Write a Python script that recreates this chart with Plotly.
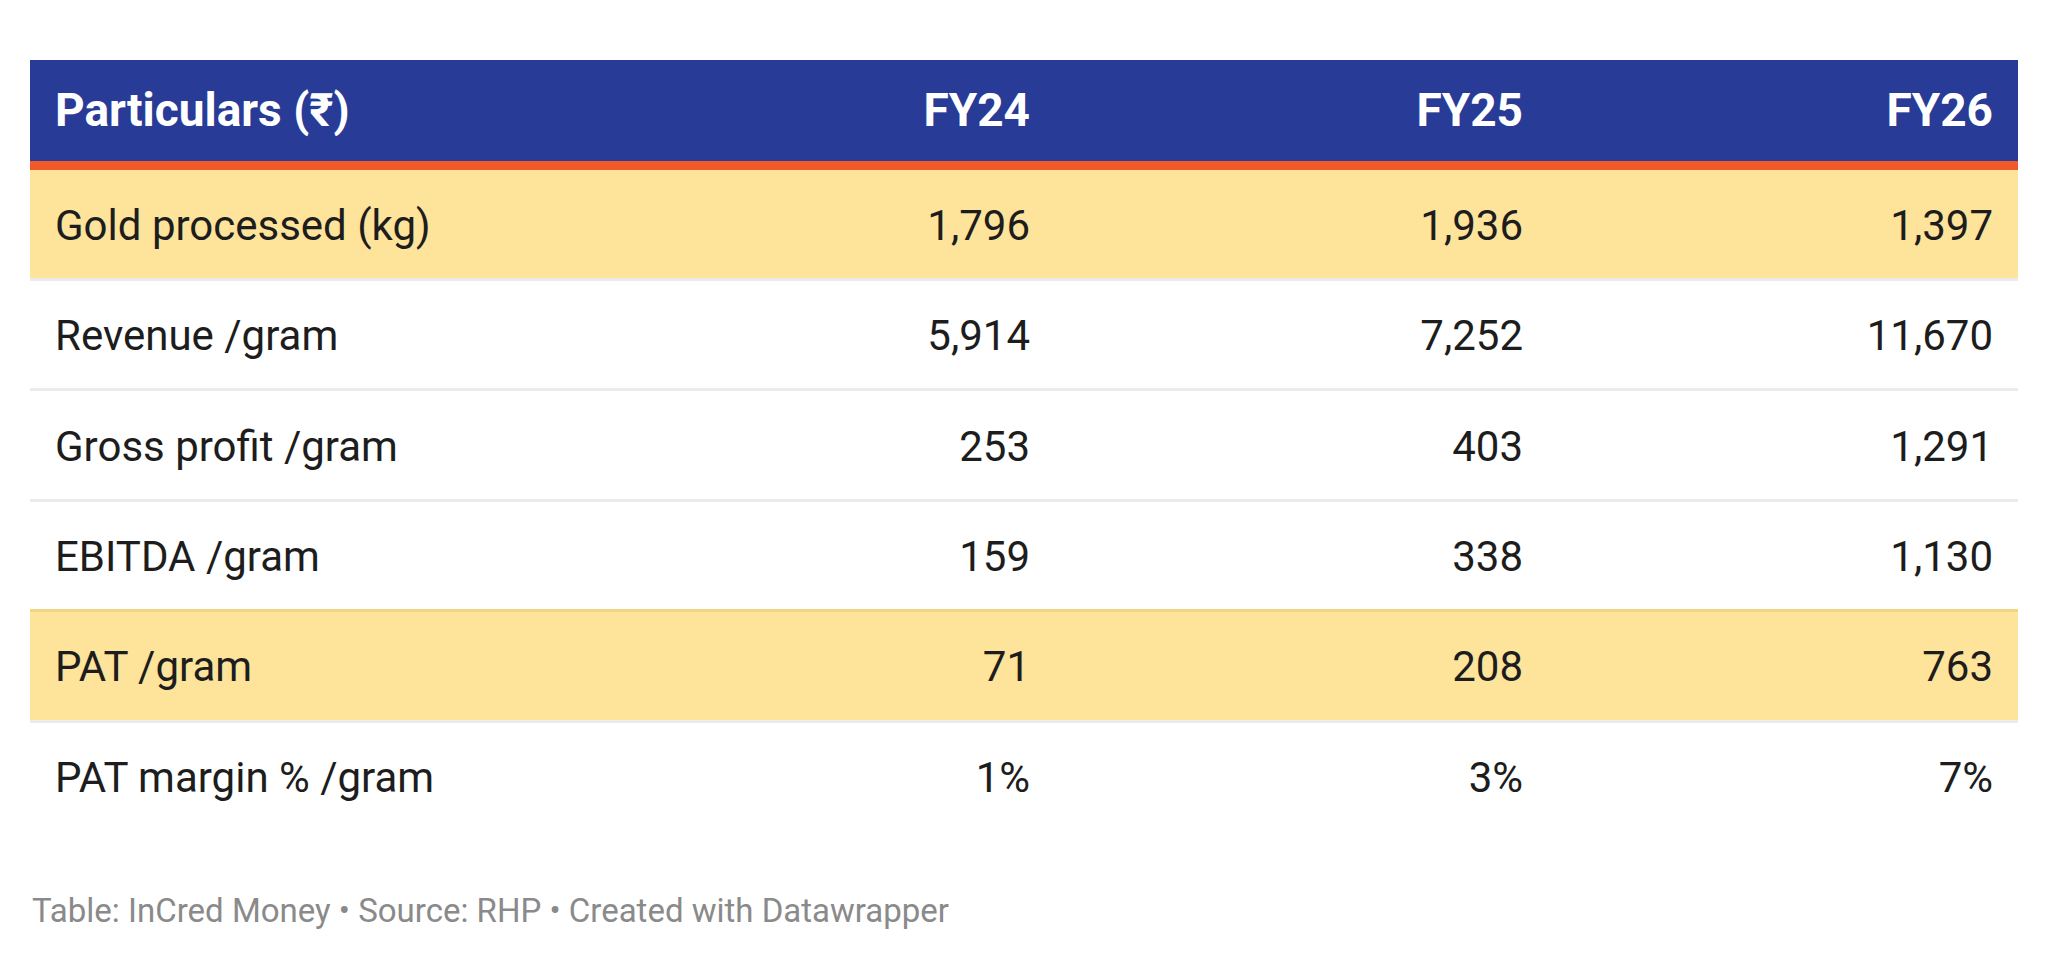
import plotly.graph_objects as go

# ---------------- data ----------------
columns = ["Particulars (₹)", "FY24", "FY25", "FY26"]
particulars = [
    "Gold processed (kg)",
    "Revenue /gram",
    "Gross profit /gram",
    "EBITDA /gram",
    "PAT /gram",
    "PAT margin % /gram",
]
fy24 = [1796, 5914, 253, 159, 71, 1]
fy25 = [1936, 7252, 403, 338, 208, 3]
fy26 = [1397, 11670, 1291, 1130, 763, 7]
units = ["", "", "", "", "", "%"]
highlighted = ["Gold processed (kg)", "PAT /gram"]
footer = "Table: InCred Money • Source: RHP • Created with Datawrapper"

# ---------------- style / layout ----------------
W, H = 2048, 961
M_L, M_R, M_T, M_B = 30, 30, 60, 128
FONT = "Roboto"
BLUE = "#283b96"
ORANGE = "#f05a28"
GOLD = "#fee39b"
GOLD_LINE = "#f2d486"
GRAY_LINE = "#ebebeb"
TEXT = "#1d1d1d"

plot_w = W - M_L - M_R
plot_h = H - M_T - M_B
n_bands = len(particulars) + 1
band_px = plot_h / n_bands
sep_w = 3 / band_px
stripe_w = 9 / band_px
shift = 3.5 / band_px      # body text slightly below band centre
head_shift = -1.0 / band_px  # header text slightly above band centre

left_anchor = 25 / plot_w
right_anchors = [1000 / plot_w, 1493 / plot_w, 1963 / plot_w]

cats = [columns[0]] + particulars


def fmt(v, u):
    return f"{v:,}{u}"


bg_colors = [BLUE] + [GOLD if p in highlighted else "white" for p in particulars]

sep_rows = particulars[:-1]
sep_colors = []
for i, p in enumerate(sep_rows):
    nxt = particulars[i + 1]
    sep_colors.append(GOLD_LINE if (nxt in highlighted and p not in highlighted) else GRAY_LINE)

fig = go.Figure()

# row backgrounds
fig.add_trace(go.Bar(
    orientation="h", y=cats, x=[1] * len(cats), base=0, width=1,
    offset=-0.5 - shift,
    marker=dict(color=bg_colors, line=dict(width=0)), hoverinfo="skip",
))
# orange stripe under header
fig.add_trace(go.Bar(
    orientation="h", y=[cats[0]], x=[1], base=0, width=stripe_w,
    offset=0.5 - shift - stripe_w,
    marker=dict(color=ORANGE, line=dict(width=0)), hoverinfo="skip",
))
# row separators
fig.add_trace(go.Bar(
    orientation="h", y=sep_rows, x=[1] * len(sep_rows), base=0, width=sep_w,
    offset=0.5 - shift - sep_w,
    marker=dict(color=sep_colors, line=dict(width=0)), hoverinfo="skip",
))

# header text (on an overlaying axis with its own small nudge)
fig.add_trace(go.Scatter(
    mode="text", x=[left_anchor] + right_anchors, y=[cats[0]] * 4,
    text=columns, yaxis="y2",
    textposition=["middle right", "middle left", "middle left", "middle left"],
    textfont=dict(family=FONT, size=46, color="white", weight="bold"),
    cliponaxis=False, hoverinfo="skip",
))

# first column labels
fig.add_trace(go.Scatter(
    mode="text", x=[left_anchor] * len(particulars), y=particulars,
    text=particulars, textposition="middle right",
    textfont=dict(family=FONT, size=42, color=TEXT),
    cliponaxis=False, hoverinfo="skip",
))

# value columns
for anchor, vals in zip(right_anchors, [fy24, fy25, fy26]):
    fig.add_trace(go.Scatter(
        mode="text", x=[anchor] * len(vals), y=particulars,
        text=[fmt(v, u) for v, u in zip(vals, units)],
        textposition="middle left",
        textfont=dict(family=FONT, size=42, color=TEXT),
        cliponaxis=False, hoverinfo="skip",
    ))

fig.add_annotation(
    text=footer, xref="paper", yref="paper", x=0, y=(0 - (910 - (H - M_B)) / plot_h),
    xanchor="left", yanchor="middle", showarrow=False,
    font=dict(family=FONT, size=33, color="#8a8a8a"),
)

fig.update_layout(
    width=W, height=H,
    margin=dict(l=M_L, r=M_R, t=M_T, b=M_B, pad=0),
    paper_bgcolor="white", plot_bgcolor="white",
    barmode="overlay", bargap=0, showlegend=False,
    xaxis=dict(range=[0, 1], visible=False, fixedrange=True),
    yaxis=dict(type="category", categoryorder="array", categoryarray=cats,
               range=[n_bands - 0.5 - shift, -0.5 - shift], visible=False, fixedrange=True),
    yaxis2=dict(type="category", categoryorder="array", categoryarray=cats,
                overlaying="y", range=[n_bands - 0.5 - head_shift, -0.5 - head_shift],
                visible=False, fixedrange=True),
    hovermode=False,
)

fig.write_html(
    "out.html",
    config={"displayModeBar": False, "staticPlot": True},
    post_script="document.body.style.margin='0';document.body.style.overflow='hidden';",
)
